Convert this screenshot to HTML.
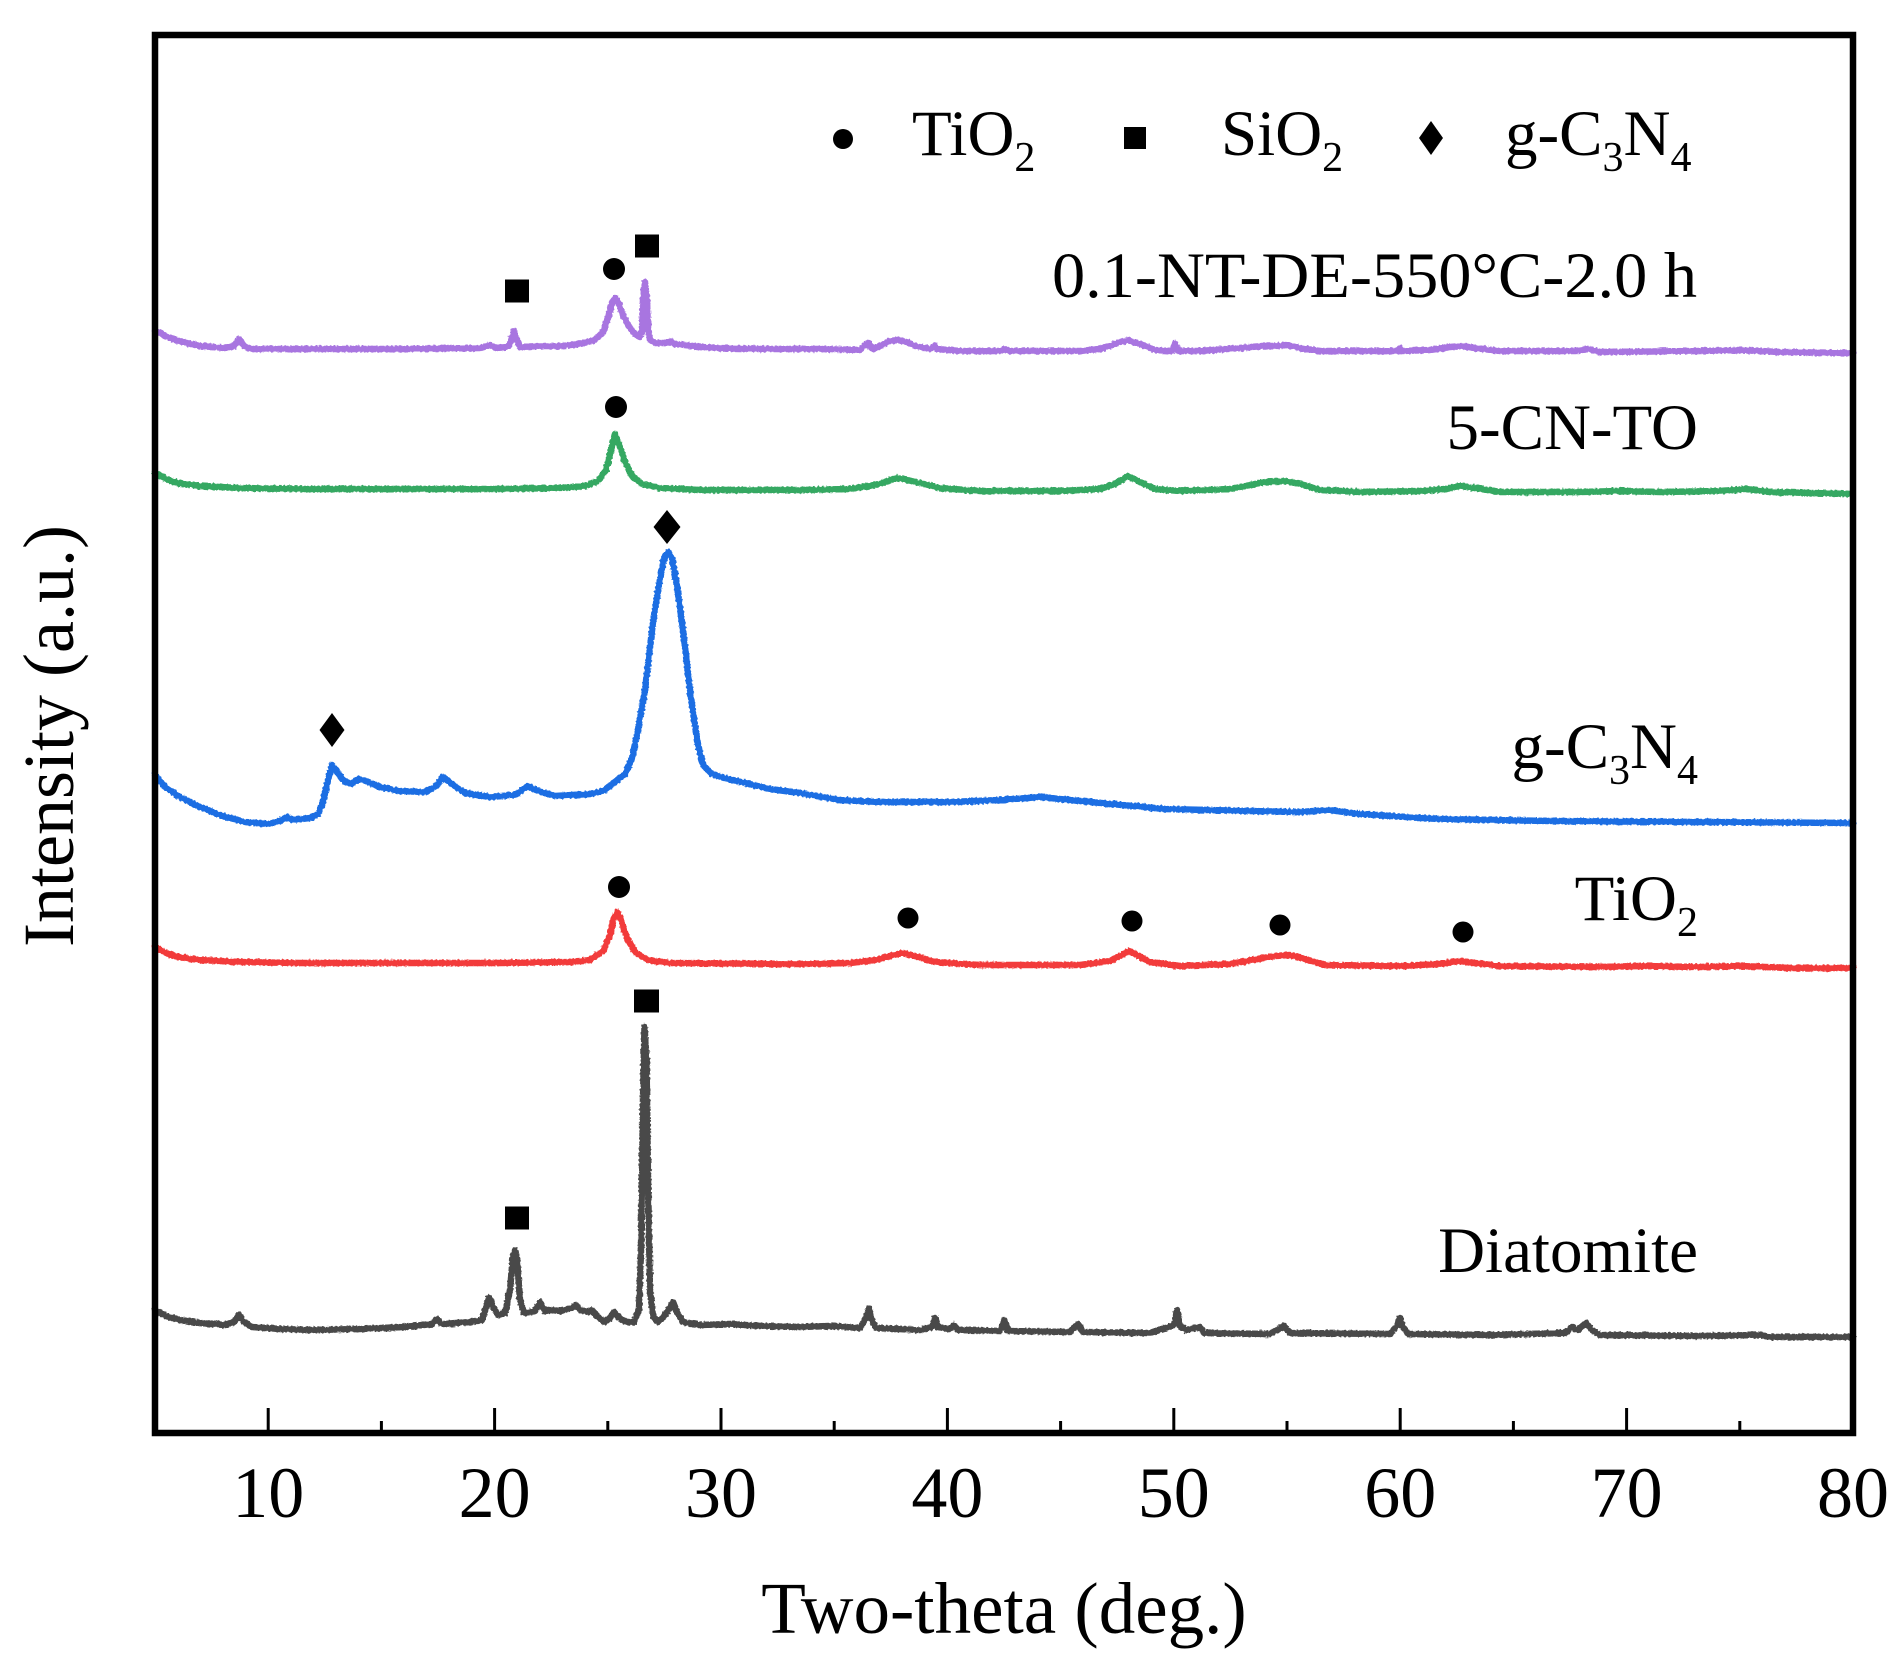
<!DOCTYPE html>
<html><head><meta charset="utf-8">
<style>html,body{margin:0;padding:0;background:#fff}svg{display:block}</style>
</head>
<body>
<svg width="1901" height="1660" viewBox="0 0 1901 1660" xmlns="http://www.w3.org/2000/svg" font-family="'Liberation Serif','Times New Roman',serif" fill="#000">
<defs>
  <filter id="fz" filterUnits="userSpaceOnUse" x="0" y="0" width="1901" height="1660">
    <feTurbulence type="fractalNoise" baseFrequency="0.45" numOctaves="1" seed="3" result="n"/>
    <feDisplacementMap in="SourceGraphic" in2="n" scale="3.5" xChannelSelector="R" yChannelSelector="G"/>
  </filter>
</defs>
<rect x="0" y="0" width="1901" height="1660" fill="#fff"/>

<g fill="none" stroke-width="6.5" stroke-linejoin="round" stroke-linecap="round" filter="url(#fz)">
<!-- purple -->
<polyline stroke="#a874e0" points="155,331 166,336 178,341 200,346 225,348 234,346 239,339 244,346 250,349 300,349 400,349 480,348 490,345 496,348 508,347 511,340 514,331 517,340 520,347 540,346 560,346 580,344 595,340 603,332 608,318 612,303 615,298 618,302 623,315 630,328 636,335 640,337 642,330 643,300 645,282 647,300 648,330 650,340 656,343 665,343 670,341 674,344 685,345 700,347 720,348 760,349 820,349 860,350 866,344 869,343 872,349 880,346 890,341 898,340 906,342 915,346 930,349 935,346 937,349 960,351 1000,351 1005,349 1010,351 1080,351 1100,349 1115,344 1128,340 1140,344 1155,350 1172,351 1175,343 1178,351 1200,351 1240,348 1262,346 1275,346 1287,345 1300,348 1320,351 1398,351 1400,348 1402,351 1430,350 1450,347 1462,346 1475,348 1500,351 1575,351 1588,349 1600,352 1700,351 1740,350 1780,352 1853,353"/>
<!-- green -->
<polyline stroke="#36a862" points="155,473 166,479 178,483 200,486 240,488 300,489 400,489 500,489 560,488 585,486 598,481 606,470 611,450 615,434 619,444 625,462 632,476 642,484 660,488 700,490 800,490 850,489 875,485 898,478 920,483 940,488 980,491 1060,491 1100,489 1115,484 1128,476 1140,482 1155,489 1180,491 1230,489 1250,485 1265,482 1285,481 1300,484 1320,490 1360,492 1420,491 1445,489 1460,486 1475,488 1500,492 1580,492 1620,491 1660,492 1720,491 1746,489 1770,492 1853,494"/>
<!-- blue -->
<polyline stroke="#1b6ee3" points="155,775 165,787 178,796 200,807 223,816 245,822 268,824 280,821 287,817 293,820 310,818 318,814 323,802 327,784 332,765 337,772 345,782 352,784 358,779 366,781 380,787 400,791 425,792 436,786 443,777 452,784 465,793 490,797 515,795 528,786 538,791 555,796 590,794 605,790 615,782 625,774 632,758 637,735 645,690 653,622 659,585 664,558 668,552 672,558 677,586 683,630 690,690 697,740 703,765 712,774 725,778 745,783 770,789 800,793 840,800 880,802 950,802 1000,800 1040,797 1080,801 1165,809 1250,811 1300,812 1329,810 1360,814 1439,819 1550,821 1700,822 1853,823"/>
<!-- red -->
<polyline stroke="#f23b3b" points="155,947 166,953 178,957 200,960 240,962 300,963 500,963 570,962 590,960 603,951 610,935 614,918 617,912 621,920 627,938 635,952 648,960 670,963 800,964 850,963 875,960 890,956 902,953 915,956 935,962 980,965 1080,965 1110,961 1122,955 1129,951 1137,955 1150,962 1180,966 1230,964 1252,960 1275,956 1290,955 1305,959 1325,965 1400,966 1440,964 1460,961 1475,963 1500,966 1600,967 1640,966 1700,967 1740,966 1790,968 1853,968"/>
<!-- gray diatomite -->
<polyline stroke="#4a4a4a" points="155,1310 166,1316 180,1320 200,1323 225,1325 234,1322 239,1315 244,1322 252,1327 280,1329 313,1330 360,1329 404,1327 432,1324 437,1319 442,1324 470,1322 482,1320 486,1307 489,1298 493,1307 498,1315 505,1313 510,1290 513,1256 515,1250 517,1258 520,1300 524,1313 535,1311 540,1302 545,1311 552,1310 560,1311 572,1308 576,1305 580,1310 588,1312 592,1310 596,1315 604,1322 610,1318 614,1312 619,1318 626,1322 634,1322 639,1310 641,1250 643,1100 644.5,1027 646.5,1060 648,1180 650,1290 653,1316 658,1322 664,1316 670,1308 673,1302 677,1312 683,1322 700,1325 730,1324 760,1326 800,1327 830,1326 860,1328 866,1318 869,1308 872,1320 876,1328 920,1330 932,1327 935,1318 938,1327 950,1329 954,1325 958,1330 1000,1331 1004,1320 1008,1331 1070,1332 1078,1324 1083,1332 1150,1333 1174,1325 1177,1310 1180,1326 1186,1330 1200,1327 1204,1333 1270,1334 1284,1326 1290,1333 1390,1334 1397,1326 1400,1318 1403,1327 1408,1334 1490,1335 1565,1333 1572,1327 1578,1330 1586,1323 1592,1330 1600,1335 1700,1336 1760,1335 1770,1337 1853,1337"/>
</g>

<!-- markers on curves -->
<g fill="#000">
  <rect x="505" y="279.5" width="24" height="23"/>
  <circle cx="614" cy="269" r="11"/>
  <rect x="635" y="234.5" width="24" height="23"/>
  <circle cx="616" cy="407" r="11"/>
  <polygon points="332,713 344.5,730 332,747 319.5,730"/>
  <polygon points="667,510 680.5,527 667,544 653.5,527"/>
  <circle cx="619" cy="887" r="11"/>
  <circle cx="908" cy="918" r="10.5"/>
  <circle cx="1132" cy="921" r="10.5"/>
  <circle cx="1280" cy="925" r="10.5"/>
  <circle cx="1463" cy="932" r="10.5"/>
  <rect x="505" y="1206.5" width="24" height="23"/>
  <rect x="634" y="989.5" width="25" height="23"/>
  <circle cx="843" cy="139" r="10"/>
  <rect x="1124" y="127" width="22" height="22"/>
  <polygon points="1431,121 1443,138 1431,155 1419,138"/>
</g>

<!-- legend text -->
<g font-size="65">
  <text x="912" y="155">TiO<tspan font-size="42" dy="16">2</tspan></text>
  <text x="1221" y="155">SiO<tspan font-size="42" dy="16">2</tspan></text>
  <text x="1505" y="155">g-C<tspan font-size="42" dy="16">3</tspan><tspan dy="-16">N</tspan><tspan font-size="42" dy="16">4</tspan></text>
</g>

<!-- series labels -->
<g font-size="65">
  <text x="1052" y="297" textLength="645" lengthAdjust="spacingAndGlyphs">0.1-NT-DE-550°C-2.0 h</text>
</g>
<g font-size="65" text-anchor="end">
  <text x="1698" y="449">5-CN-TO</text>
  <text x="1698" y="768">g-C<tspan font-size="42" dy="16">3</tspan><tspan dy="-16">N</tspan><tspan font-size="42" dy="16">4</tspan></text>
  <text x="1698" y="920">TiO<tspan font-size="42" dy="16">2</tspan></text>
  <text x="1698" y="1272">Diatomite</text>
</g>

<!-- ticks -->
<g stroke="#000" stroke-width="3">
  <line x1="268.2" y1="1433" x2="268.2" y2="1408"/>
  <line x1="494.6" y1="1433" x2="494.6" y2="1408"/>
  <line x1="721" y1="1433" x2="721" y2="1408"/>
  <line x1="947.4" y1="1433" x2="947.4" y2="1408"/>
  <line x1="1173.8" y1="1433" x2="1173.8" y2="1408"/>
  <line x1="1400.2" y1="1433" x2="1400.2" y2="1408"/>
  <line x1="1626.6" y1="1433" x2="1626.6" y2="1408"/>
  <line x1="381.4" y1="1433" x2="381.4" y2="1421"/>
  <line x1="607.8" y1="1433" x2="607.8" y2="1421"/>
  <line x1="834.2" y1="1433" x2="834.2" y2="1421"/>
  <line x1="1060.6" y1="1433" x2="1060.6" y2="1421"/>
  <line x1="1287" y1="1433" x2="1287" y2="1421"/>
  <line x1="1513.4" y1="1433" x2="1513.4" y2="1421"/>
  <line x1="1739.8" y1="1433" x2="1739.8" y2="1421"/>
</g>

<!-- frame -->
<rect x="155" y="35" width="1698" height="1398" fill="none" stroke="#000" stroke-width="6.5"/>

<!-- tick labels -->
<g font-size="72" text-anchor="middle">
  <text x="268.2" y="1517">10</text>
  <text x="494.6" y="1517">20</text>
  <text x="721" y="1517">30</text>
  <text x="947.4" y="1517">40</text>
  <text x="1173.8" y="1517">50</text>
  <text x="1400.2" y="1517">60</text>
  <text x="1626.6" y="1517">70</text>
  <text x="1853" y="1517">80</text>
</g>

<text x="1004" y="1633" font-size="73" text-anchor="middle">Two-theta (deg.)</text>
<text transform="translate(73,736) rotate(-90)" font-size="72" text-anchor="middle">Intensity (a.u.)</text>
</svg>
</body></html>
